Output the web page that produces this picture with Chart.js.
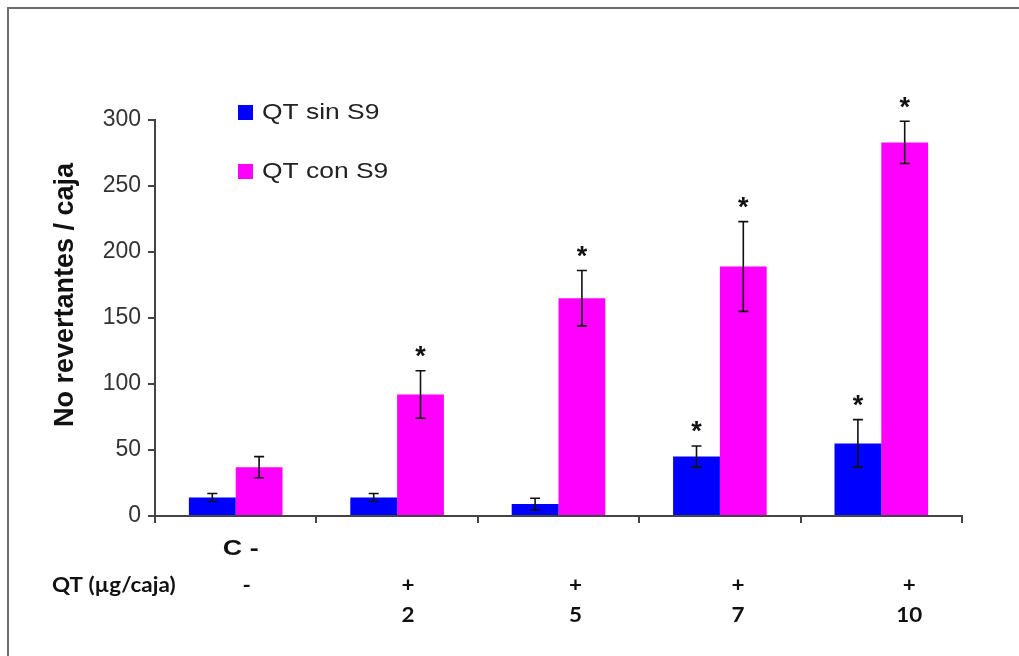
<!DOCTYPE html>
<html>
<head>
<meta charset="utf-8">
<script src="https://cdn.jsdelivr.net/npm/chart.js@4.4.1/dist/chart.umd.min.js"></script>
<style>
  html, body { margin: 0; padding: 0; background: #fff; }
  #wrap { position: relative; width: 1019px; height: 656px; }
  canvas { display: block; }
</style>
</head>
<body>
<div id="wrap"><canvas id="c" width="1019" height="656"></canvas></div>
<script>
// Treatment groups (QT dose per plate)
const categories = ['C -', '2', '5', '7', '10'];
const doseSign = ['-', '+', '+', '+', '+'];
const doseValue = ['', '2', '5', '7', '10'];

// Revertants per plate: mean and standard deviation
const sinS9 = [14, 14, 9, 45, 55];
const sinS9Err = [3, 3, 4.5, 8, 18];
const conS9 = [37, 92, 165, 189, 283];
const conS9Err = [8, 18, 21, 34, 16];

// Significant difference versus negative control
const sinS9Sig = [false, false, false, true, true];
const conS9Sig = [false, true, true, true, true];

const yTicks = [0, 50, 100, 150, 200, 250, 300];
const yTitle = 'No revertantes / caja';
const tableTitle = 'QT (\u00b5g/caja)';

const errorSets = [
  { err: sinS9Err, sig: sinS9Sig },
  { err: conS9Err, sig: conS9Sig }
];

const FONT = '"Liberation Sans", Arial, sans-serif';
const TABLE_FONT = 'Lato, "Open Sans", sans-serif';

// Text drawn with a slight horizontal stretch
function wideText(ctx, text, x, y, sx, align) {
  ctx.save();
  ctx.translate(x, y);
  ctx.scale(sx, 1);
  ctx.textAlign = align;
  ctx.fillText(text, 0, 0);
  ctx.restore();
}

// Error bars with caps, plus significance asterisks
const errorBarPlugin = {
  id: 'errorBars',
  afterDatasetsDraw(chart) {
    const ctx = chart.ctx;
    const y = chart.scales.y;
    chart.data.datasets.forEach((ds, di) => {
      const meta = chart.getDatasetMeta(di);
      const set = errorSets[di];
      meta.data.forEach((bar, i) => {
        const v = ds.data[i];
        const e = set.err[i];
        const yTop = y.getPixelForValue(v + e);
        const yBot = y.getPixelForValue(v - e);
        const x = bar.x;
        ctx.save();
        ctx.strokeStyle = '#111';
        ctx.lineWidth = 1.6;
        ctx.beginPath();
        ctx.moveTo(x, yTop); ctx.lineTo(x, yBot);
        ctx.moveTo(x - 5, yTop); ctx.lineTo(x + 5, yTop);
        ctx.moveTo(x - 5, yBot); ctx.lineTo(x + 5, yBot);
        ctx.stroke();
        if (set.sig[i]) {
          ctx.fillStyle = '#111';
          ctx.font = 'bold 27px ' + FONT;
          ctx.textAlign = 'center';
          ctx.textBaseline = 'middle';
          ctx.fillText('*', x, yTop - 13);
        }
        ctx.restore();
      });
    });
  }
};

// Legend placed inside the plot area, top-left
const innerLegendPlugin = {
  id: 'innerLegend',
  afterDraw(chart) {
    const ctx = chart.ctx;
    const x0 = 238, rows = [112, 171];
    ctx.save();
    chart.data.datasets.forEach((ds, di) => {
      const cy = rows[di];
      ctx.fillStyle = ds.backgroundColor;
      ctx.fillRect(x0, cy - 7, 15, 15);
      ctx.fillStyle = '#222';
      ctx.font = '22px ' + FONT;
      ctx.textBaseline = 'middle';
      wideText(ctx, ds.label, x0 + 24, cy + 1, 1.2, 'left');
    });
    ctx.restore();
  }
};

// Y axis title
const yTitlePlugin = {
  id: 'yTitle',
  afterDraw(chart) {
    const ctx = chart.ctx;
    ctx.save();
    ctx.translate(66, 295);
    ctx.rotate(-Math.PI / 2);
    ctx.fillStyle = '#111';
    ctx.font = 'bold 27px ' + FONT;
    ctx.textAlign = 'center';
    ctx.textBaseline = 'middle';
    ctx.fillText(yTitle, 0, 0);
    ctx.restore();
  }
};

// Treatment table under the x axis
const tablePlugin = {
  id: 'doseTable',
  afterDraw(chart) {
    const ctx = chart.ctx;
    const xs = chart.scales.x;
    const shift = [11, 11, 17, 18, 28];
    ctx.save();
    ctx.fillStyle = '#111';
    ctx.textBaseline = 'middle';
    ctx.font = 'bold 22px ' + FONT;
    wideText(ctx, categories[0], xs.getPixelForValue(0) + 5, 549, 1.22, 'center');
    ctx.font = 'bold 20px ' + TABLE_FONT;
    wideText(ctx, tableTitle, 52, 586, 1.12, 'left');
    doseSign.forEach((s, i) => {
      const x = xs.getPixelForValue(i) + shift[i];
      wideText(ctx, s, x, 586, 1.12, 'center');
      if (doseValue[i]) wideText(ctx, doseValue[i], x, 616, 1.12, 'center');
    });
    ctx.restore();
  }
};

// Frame around the figure (top and left edges)
const framePlugin = {
  id: 'frame',
  beforeDraw(chart) {
    const ctx = chart.ctx;
    ctx.save();
    ctx.fillStyle = '#fff';
    ctx.fillRect(0, 0, chart.width, chart.height);
    ctx.strokeStyle = '#6e6e6e';
    ctx.lineWidth = 2;
    ctx.beginPath();
    ctx.moveTo(8, 656);
    ctx.lineTo(8, 8);
    ctx.lineTo(1019, 8);
    ctx.stroke();
    ctx.restore();
  }
};

new Chart(document.getElementById('c'), {
  type: 'bar',
  data: {
    labels: categories,
    datasets: [
      { label: 'QT sin S9', data: sinS9, backgroundColor: '#0000ff', borderWidth: 0 },
      { label: 'QT con S9', data: conS9, backgroundColor: '#ff00ff', borderWidth: 0 }
    ]
  },
  options: {
    responsive: false,
    animation: false,
    layout: { padding: { top: 120, right: 57, bottom: 0, left: 0 } },
    categoryPercentage: 0.58,
    barPercentage: 1.0,
    plugins: {
      legend: { display: false },
      tooltip: { enabled: false }
    },
    scales: {
      x: {
        ticks: { display: false },
        grid: {
          display: true,
          drawOnChartArea: false,
          drawTicks: true,
          tickLength: 7,
          color: '#444',
          lineWidth: 2,
          offset: true
        },
        border: { color: '#444', width: 2 },
        afterFit(scale) { scale.height = 140; }
      },
      y: {
        min: 0,
        max: 300,
        afterBuildTicks(scale) { scale.ticks = yTicks.map(v => ({ value: v })); },
        ticks: {
          color: '#333',
          font: { size: 23, family: FONT },
          padding: 7
        },
        grid: {
          drawOnChartArea: false,
          drawTicks: true,
          tickLength: 7,
          color: '#444',
          lineWidth: 2
        },
        border: { color: '#444', width: 2 },
        title: { display: false },
        afterFit(scale) { scale.width = 155; }
      }
    }
  },
  plugins: [framePlugin, errorBarPlugin, innerLegendPlugin, yTitlePlugin, tablePlugin]
});
</script>
</body>
</html>
